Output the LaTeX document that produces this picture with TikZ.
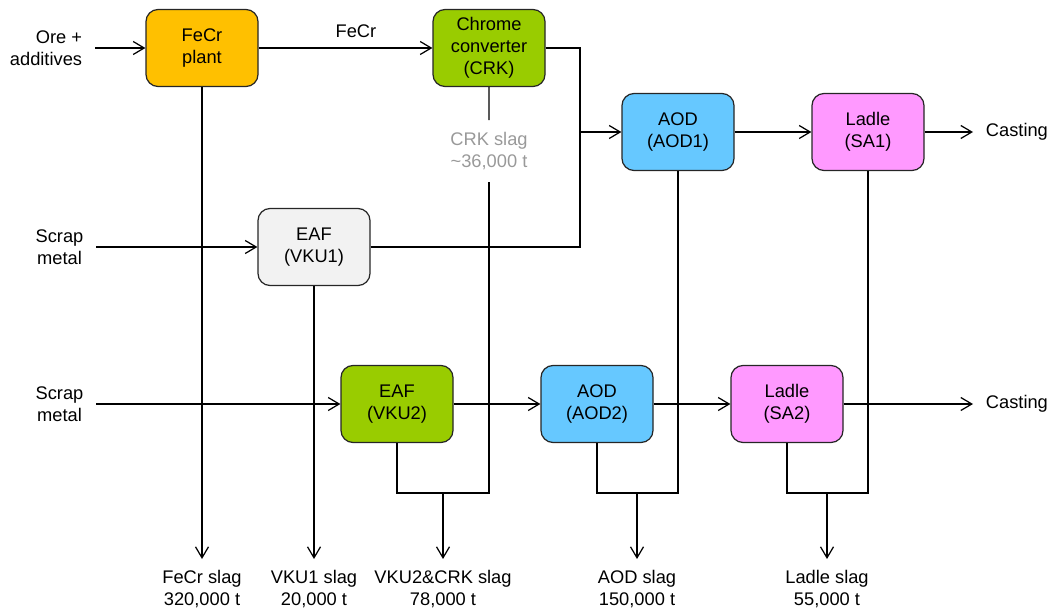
\documentclass[tikz,border=0pt]{standalone}
\usepackage{fontspec}
\setmainfont{Liberation Sans}
\usetikzlibrary{positioning,arrows.meta}

\definecolor{fecrorange}{HTML}{FFC000}
\definecolor{limegreen}{HTML}{99CC00}
\definecolor{aodblue}{HTML}{66C8FF}
\definecolor{ladlepink}{HTML}{FF99FF}
\definecolor{eafgrey}{HTML}{F2F2F2}
\definecolor{slaggrey}{HTML}{999999}

\begin{document}
\begin{tikzpicture}[node distance=4cm,on grid,line width=0.7pt,
    >={Straight Barb[length=2.2mm,width=2.6mm]},
    every node/.style={font=\fontsize{10.4}{12.5}\selectfont},
    unit/.style={draw=black!85,rounded corners=0.24cm,minimum width=2.24cm,
        minimum height=1.54cm,align=center,inner sep=0pt},
    side/.style={align=center,inner xsep=7pt},
    slag/.style={align=center,anchor=north,inner ysep=0.22cm}]
    \useasboundingbox (0,0) rectangle (21.08,-12.24);

    \node[unit,fill=fecrorange] (fecr) at (4.04,-0.96) {FeCr\\plant};
    \node[unit,fill=limegreen] (crk) [right=5.74cm of fecr] {Chrome\\converter\\(CRK)};
    \node[unit,fill=aodblue] (aod1) at (13.56,-2.64) {AOD\\(AOD1)};
    \node[unit,fill=ladlepink] (sa1) [right=3.8cm of aod1] {Ladle\\(SA1)};
    \node[unit,fill=eafgrey] (vku1) at (6.28,-4.94) {EAF\\(VKU1)};
    \node[unit,fill=limegreen] (vku2) at (7.94,-8.08) {EAF\\(VKU2)};
    \node[unit,fill=aodblue] (aod2) [right=of vku2] {AOD\\(AOD2)};
    \node[unit,fill=ladlepink] (sa2) [right=3.8cm of aod2] {Ladle\\(SA2)};

    % inputs and outputs
    \node[side,anchor=east,align=right] (ore) at (1.9,-0.96) {Ore +\\additives};
    \node[side] (scrap1) at (1.19,-4.94) {Scrap\\metal};
    \node[side] (scrap2) at (1.19,-8.08) {Scrap\\metal};
    \node[side,anchor=west] (cast1) at (19.46,-2.64) {Casting};
    \node[side,anchor=west] (cast2) at (19.46,-8.08) {Casting};

    % slag
    \node[align=center,inner ysep=6.5pt,text=slaggrey] (crkslag) at (9.78,-3.02) {CRK slag\\\textasciitilde 36,000 t};
    \node[slag] (fecrslag) at (4.04,-11.18) {FeCr slag\\320,000 t};
    \node[slag] (vku1slag) at (6.28,-11.18) {VKU1 slag\\20,000 t};
    \node[slag] (mixslag) at (8.86,-11.18) {VKU2\&CRK slag\\78,000 t};
    \node[slag] (aodslag) at (12.74,-11.18) {AOD slag\\150,000 t};
    \node[slag] (ladleslag) at (16.54,-11.18) {Ladle slag\\55,000 t};

    \coordinate (mix) at (11.6,-2.64);
    \coordinate (j2) at (8.86,-9.86);
    \coordinate (j3) at (12.74,-9.86);
    \coordinate (j4) at (16.54,-9.86);

    \path[->]
    (ore) edge (fecr)
    (fecr) edge node[above=2pt,pos=.56] {FeCr} (crk)
    (scrap1) edge (vku1)
    (scrap2) edge (vku2)
    (aod1) edge (sa1)
    (sa1) edge (cast1)
    (vku2) edge (aod2)
    (aod2) edge (sa2)
    (sa2) edge (cast2);

    \draw[->] (crk) -| (mix) -- (aod1);
    \draw (vku1) -| (mix);

    \draw (crk) -- (crkslag);
    \draw (vku2) |- (j2) -| (crkslag);
    \draw (aod2) |- (j3) -| (aod1);
    \draw (sa2) |- (j4) -| (sa1);

    \draw[->] (fecr) -- (fecrslag);
    \draw[->] (vku1) -- (vku1slag);
    \draw[->] (j2) -- (mixslag);
    \draw[->] (j3) -- (aodslag);
    \draw[->] (j4) -- (ladleslag);
\end{tikzpicture}
\end{document}
